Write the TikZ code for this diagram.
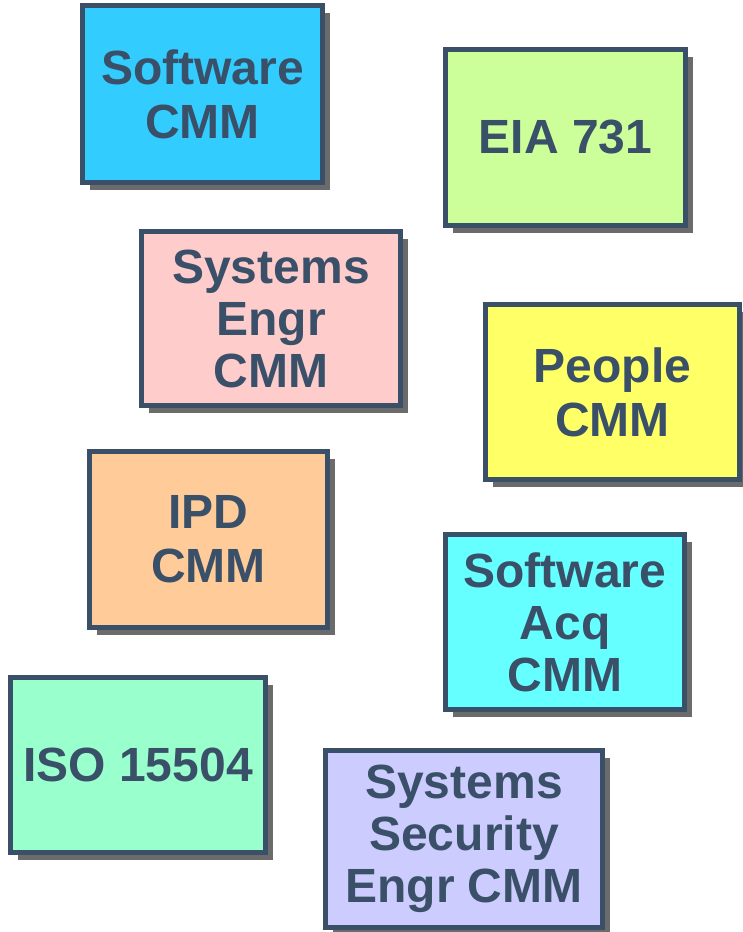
\documentclass[tikz,border=0pt]{standalone}
\usepackage{fontspec}
\setmainfont{Liberation Sans}
\usetikzlibrary{shadows}

\definecolor{edgeblue}{HTML}{3A5068}
\definecolor{shadowgray}{HTML}{6B6B6B}

\tikzset{
  cmmbox/.style={draw=edgeblue, line width=5pt, rectangle, align=center,
    text=edgeblue, font=\fontsize{48}{54}\selectfont\bfseries, inner sep=0pt,
    drop shadow={shadow xshift=7.5pt, shadow yshift=-7.5pt, fill=shadowgray, opacity=1}},
  threeline/.style={font=\fontsize{48}{52}\selectfont\bfseries},
  boxsize/.style 2 args={minimum width=#1pt, minimum height=#2pt}
}

\begin{document}
\begin{tikzpicture}[x=1pt, y=-1pt]
        \useasboundingbox (0,0) rectangle (742,932);

        \node[cmmbox, fill={rgb,255:red,51;green,204;blue,255}, boxsize={240}{177}] (swcmm) at (202.5,94) {Software\\CMM};
        \node[cmmbox, fill={rgb,255:red,204;green,255;blue,153}, boxsize={240}{176}] (eia) at (565.5,137.5) {EIA 731};
        \node[cmmbox, threeline, fill={rgb,255:red,255;green,204;blue,204}, boxsize={259}{174}] (secmm) at (271,318.5) {Systems\\Engr\\CMM};
        \node[cmmbox, fill={rgb,255:red,255;green,255;blue,102}, boxsize={254}{175}] (pcmm) at (612.5,392) {People\\CMM};
        \node[cmmbox, fill={rgb,255:red,255;green,204;blue,153}, boxsize={238}{176}] (ipd) at (208.5,539.5) {IPD\\CMM};
        \node[cmmbox, threeline, fill={rgb,255:red,102;green,255;blue,255}, boxsize={239}{175}] (sacmm) at (565,622) {Software\\Acq\\CMM};
        \node[cmmbox, fill={rgb,255:red,153;green,255;blue,204}, boxsize={255}{175}] (iso) at (138,765) {ISO 15504};
        \node[cmmbox, threeline, fill={rgb,255:red,204;green,204;blue,255}, boxsize={277}{177}] (ssecmm) at (464,839) {Systems\\Security\\Engr CMM};
    \end{tikzpicture}
\end{document}
